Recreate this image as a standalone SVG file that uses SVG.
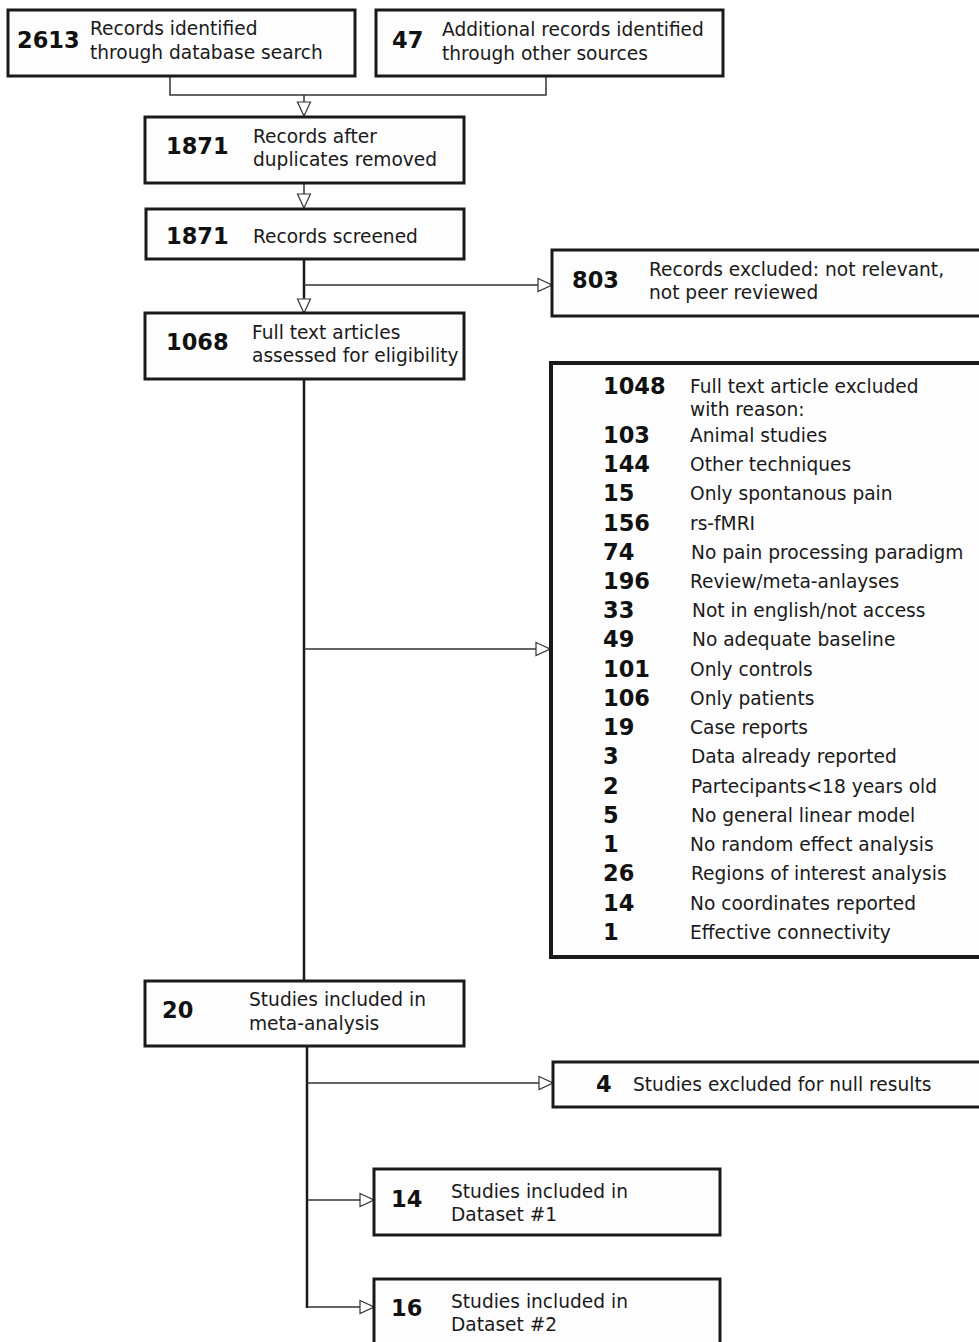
<svg xmlns="http://www.w3.org/2000/svg" width="979" height="1342" viewBox="0 0 979 1342">
<style>
  .box { fill: #fdfdfd; stroke: #1a1a1a; stroke-width: 3; }
  .big { stroke-width: 4; }
  .num { font-family: "DejaVu Sans", Verdana, sans-serif; font-weight: bold; font-size: 22.5px; fill: #111; }
  .txt { font-family: "DejaVu Sans", Verdana, sans-serif; font-size: 18.6px; fill: #1a1a1a; }
  .ln { fill: none; stroke: #333; stroke-width: 1.5; }
  .trunk { fill: none; stroke: #1a1a1a; stroke-width: 2.5; }
</style>
<defs>
  <marker id="arr" markerUnits="userSpaceOnUse" markerWidth="16" markerHeight="16" viewBox="0 0 16 16" refX="15" refY="8" orient="auto">
    <path d="M1,1.5 L15,8 L1,14.5 Z" fill="#fff" stroke="#333" stroke-width="1.2"/>
  </marker>
</defs>
<rect width="979" height="1342" fill="#fff"/>

<g id="connectors">
  <path class="ln" d="M170,76 V95 H546 V76"/>
  <path class="ln" d="M304,95 V116" marker-end="url(#arr)"/>
  <path class="ln" d="M304,183 V208" marker-end="url(#arr)"/>
  <path class="trunk" d="M304,259 V298"/>
  <path class="ln" d="M304,298 V313" marker-end="url(#arr)"/>
  <path class="ln" d="M304,285 H552" marker-end="url(#arr)"/>
  <path class="trunk" d="M304,379 V981"/>
  <path class="ln" d="M304,649 H550" marker-end="url(#arr)"/>
  <path class="trunk" d="M307,1046 V1308"/>
  <path class="ln" d="M307,1083 H553" marker-end="url(#arr)"/>
  <path class="ln" d="M307,1200 H374" marker-end="url(#arr)"/>
  <path class="ln" d="M307,1307 H374" marker-end="url(#arr)"/>
</g>

<g id="n2613">
  <rect class="box" x="8" y="10" width="347" height="66"/>
  <text class="num" x="17" y="48">2613</text>
  <text class="txt" x="90" y="35">Records identified</text>
  <text class="txt" x="90" y="59">through database search</text>
</g>
<g id="n47">
  <rect class="box" x="376" y="10" width="347" height="66"/>
  <text class="num" x="392" y="48">47</text>
  <text class="txt" x="442" y="36">Additional records identified</text>
  <text class="txt" x="442" y="60">through other sources</text>
</g>
<g id="n1871a">
  <rect class="box" x="145" y="117" width="319" height="66"/>
  <text class="num" x="166" y="154">1871</text>
  <text class="txt" x="253" y="143">Records after</text>
  <text class="txt" x="253" y="166">duplicates removed</text>
</g>
<g id="n1871b">
  <rect class="box" x="146" y="209" width="318" height="50"/>
  <text class="num" x="166" y="244">1871</text>
  <text class="txt" x="253" y="243">Records screened</text>
</g>
<g id="n803">
  <rect class="box" x="552" y="250" width="432" height="66"/>
  <text class="num" x="572" y="288">803</text>
  <text class="txt" x="649" y="276">Records excluded: not relevant,</text>
  <text class="txt" x="649" y="299">not peer reviewed</text>
</g>
<g id="n1068">
  <rect class="box" x="145" y="313" width="319" height="66"/>
  <text class="num" x="166" y="350">1068</text>
  <text class="txt" x="252" y="339">Full text articles</text>
  <text class="txt" x="252" y="362">assessed for eligibility</text>
</g>
<g id="n1048">
  <rect class="box big" x="551" y="363" width="433" height="594"/>
  <text class="num" x="603" y="394">1048</text>
  <text class="txt" x="690" y="393">Full text article excluded</text>
  <text class="txt" x="690" y="416">with reason:</text>
  <text class="num" x="603" y="443">103</text><text class="txt" x="690" y="442">Animal studies</text>
  <text class="num" x="603" y="472">144</text><text class="txt" x="690" y="471">Other techniques</text>
  <text class="num" x="603" y="501">15</text><text class="txt" x="690" y="500">Only spontanous pain</text>
  <text class="num" x="603" y="531">156</text><text class="txt" x="690" y="530">rs-fMRI</text>
  <text class="num" x="603" y="560">74</text><text class="txt" x="691" y="559">No pain processing paradigm</text>
  <text class="num" x="603" y="589">196</text><text class="txt" x="690" y="588">Review/meta-anlayses</text>
  <text class="num" x="603" y="618">33</text><text class="txt" x="692" y="617">Not in english/not access</text>
  <text class="num" x="603" y="647">49</text><text class="txt" x="692" y="646">No adequate baseline</text>
  <text class="num" x="603" y="677">101</text><text class="txt" x="690" y="676">Only controls</text>
  <text class="num" x="603" y="706">106</text><text class="txt" x="690" y="705">Only patients</text>
  <text class="num" x="603" y="735">19</text><text class="txt" x="690" y="734">Case reports</text>
  <text class="num" x="603" y="764">3</text><text class="txt" x="691" y="763">Data already reported</text>
  <text class="num" x="603" y="794">2</text><text class="txt" x="691" y="793">Partecipants&lt;18 years old</text>
  <text class="num" x="603" y="823">5</text><text class="txt" x="691" y="822">No general linear model</text>
  <text class="num" x="603" y="852">1</text><text class="txt" x="690" y="851">No random effect analysis</text>
  <text class="num" x="603" y="881">26</text><text class="txt" x="691" y="880">Regions of interest analysis</text>
  <text class="num" x="603" y="911">14</text><text class="txt" x="690" y="910">No coordinates reported</text>
  <text class="num" x="603" y="940">1</text><text class="txt" x="690" y="939">Effective connectivity</text>
</g>
<g id="n20">
  <rect class="box" x="145" y="981" width="319" height="65"/>
  <text class="num" x="162" y="1018">20</text>
  <text class="txt" x="249" y="1006">Studies included in</text>
  <text class="txt" x="249" y="1030">meta-analysis</text>
</g>
<g id="n4">
  <rect class="box" x="553" y="1062" width="431" height="45"/>
  <text class="num" x="596" y="1092">4</text>
  <text class="txt" x="633" y="1091">Studies excluded for null results</text>
</g>
<g id="n14">
  <rect class="box" x="374" y="1169" width="346" height="66"/>
  <text class="num" x="391" y="1207">14</text>
  <text class="txt" x="451" y="1198">Studies included in</text>
  <text class="txt" x="451" y="1221">Dataset #1</text>
</g>
<g id="n16">
  <rect class="box" x="374" y="1279" width="346" height="70"/>
  <text class="num" x="391" y="1316">16</text>
  <text class="txt" x="451" y="1308">Studies included in</text>
  <text class="txt" x="451" y="1331">Dataset #2</text>
</g>
</svg>
